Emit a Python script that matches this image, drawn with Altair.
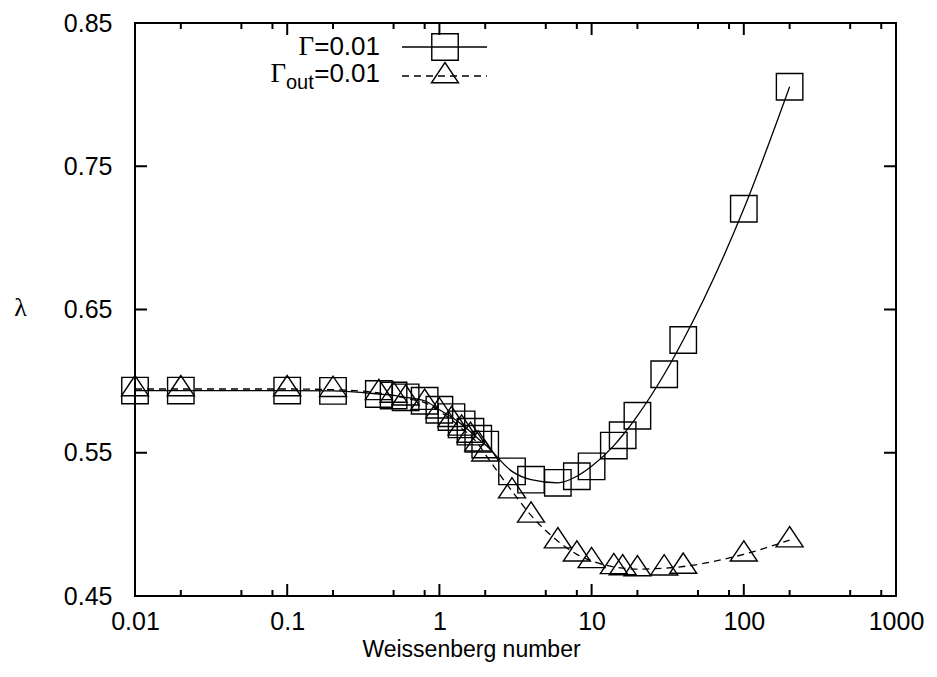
import altair as alt
import pandas as pd

# ---- data ----
W_sq = [0.01, 0.02, 0.1, 0.2, 0.4, 0.5, 0.6, 0.8, 1.0, 1.2, 1.4, 1.6, 1.8, 2.0,
        3, 4, 6, 8, 10, 14, 16, 20, 30, 40, 100, 200]
lam_sq = [0.5934, 0.5934, 0.5934, 0.5932, 0.591, 0.590, 0.5887, 0.5863, 0.580, 0.5749,
          0.5698, 0.5647, 0.5598, 0.5557, 0.537, 0.5312, 0.529, 0.5336, 0.5405, 0.555,
          0.5622, 0.5758, 0.6048, 0.6287, 0.7203, 0.8055]

W_tr = [0.01, 0.02, 0.1, 0.2, 0.4, 0.5, 0.6, 0.8, 1.0, 1.2, 1.4, 1.6, 1.8, 2.0,
        3, 4, 6, 8, 10, 14, 16, 20, 30, 40, 100, 200]
lam_tr = [0.5945, 0.5945, 0.5945, 0.594, 0.5918, 0.590, 0.588, 0.585, 0.579, 0.573,
          0.567, 0.562, 0.556, 0.549, 0.5232, 0.5063, 0.4883, 0.4791, 0.4745, 0.4703,
          0.4695, 0.4688, 0.4694, 0.4706, 0.4791, 0.489]

x_major_ticks = [0.01, 0.1, 1, 10, 100, 1000]
x_minor_ticks = [0.02, 0.05, 0.08, 0.2, 0.5, 0.8, 2, 5, 8, 20, 50, 80, 200, 500, 800]
y_major_ticks = [0.45, 0.55, 0.65, 0.75, 0.85]

legend_labels = ["Γ", "=0.01", "out"]

PW, PH = 761, 573
SANS = "Liberation Sans"
SERIF = "Liberation Serif"
FS = 25
LFS = 26

xscale = alt.Scale(type="log", domain=[0.01, 1000], nice=False)
yscale = alt.Scale(domain=[0.45, 0.85], nice=False, zero=False)

X_ENC = alt.X(
    "W:Q", scale=xscale,
    axis=alt.Axis(values=x_major_ticks, format="~g", ticks=False, tickSize=0,
                  domain=False, grid=False, labelFont=SANS, labelFontSize=FS,
                  labelColor="black", labelPadding=13, labelFlush=False,
                  title="Weissenberg number", titleFont=SANS, titleFontSize=23,
                  titleFontWeight="normal", titleColor="black",
                  titleX=336, titleY=60, titleAlign="center",
                  titleBaseline="alphabetic"),
)
Y_ENC = alt.Y(
    "lam:Q", scale=yscale,
    axis=alt.Axis(values=y_major_ticks, format=".2f", ticks=False, tickSize=0,
                  domain=False, grid=False, labelFont=SANS, labelFontSize=FS,
                  labelColor="black", labelPadding=23, labelFlush=False,
                  title="λ", titleFont=SERIF, titleFontSize=26,
                  titleFontWeight="normal", titleColor="black", titleAngle=0,
                  titleX=-115, titleY=284, titleAlign="center",
                  titleBaseline="middle"),
)

sq = pd.DataFrame({"W": W_sq, "lam": lam_sq})
tr = pd.DataFrame({"W": W_tr, "lam": lam_tr})
xmaj = pd.DataFrame({"W": x_major_ticks})
xmin = pd.DataFrame({"W": x_minor_ticks})
ymaj = pd.DataFrame({"lam": y_major_ticks})
one = pd.DataFrame({"k": [0]})

TRI = "M0,-1L-1,0.5L1,0.5Z"

line_sq = alt.Chart(sq).mark_line(color="black", strokeWidth=1.3,
                                  interpolate="monotone").encode(x=X_ENC, y=Y_ENC)
pts_sq = alt.Chart(sq).mark_point(shape="square", size=700, filled=False,
                                  color="black", strokeWidth=1.4, opacity=1).encode(x=X_ENC, y=Y_ENC)
line_tr = alt.Chart(tr).mark_line(color="black", strokeWidth=1.3, strokeDash=[7, 5],
                                  interpolate="monotone").encode(x=X_ENC, y=Y_ENC)
pts_tr = alt.Chart(tr).mark_point(shape=TRI, size=729, filled=False,
                                  color="black", strokeWidth=1.4, opacity=1).encode(x=X_ENC, y=Y_ENC)

tick_style = dict(color="black", strokeWidth=2)
bx_maj = alt.Chart(xmaj).mark_rule(**tick_style).encode(x=X_ENC, y=alt.value(PH), y2=alt.value(PH - 12))
tx_maj = alt.Chart(xmaj).mark_rule(**tick_style).encode(x=X_ENC, y=alt.value(0), y2=alt.value(12))
bx_min = alt.Chart(xmin).mark_rule(**tick_style).encode(x=X_ENC, y=alt.value(PH), y2=alt.value(PH - 6))
tx_min = alt.Chart(xmin).mark_rule(**tick_style).encode(x=X_ENC, y=alt.value(0), y2=alt.value(6))
ly_maj = alt.Chart(ymaj).mark_rule(**tick_style).encode(y=Y_ENC, x=alt.value(0), x2=alt.value(12))
ry_maj = alt.Chart(ymaj).mark_rule(**tick_style).encode(y=Y_ENC, x=alt.value(PW), x2=alt.value(PW - 12))

# ---- legend (gnuplot style: text, then sample) ----
r1y, r2y = 24, 53
eq_right = 245
g1_right = 179
out_left = 151
leg_g1 = alt.Chart(one).mark_text(text=legend_labels[0], font=SERIF, fontSize=27, align="right",
                                  baseline="alphabetic", color="black").encode(x=alt.value(g1_right), y=alt.value(32))
leg_t1 = alt.Chart(one).mark_text(text=legend_labels[1], font=SANS, fontSize=LFS, align="right",
                                  baseline="alphabetic", color="black").encode(x=alt.value(eq_right), y=alt.value(32))
leg_g2 = alt.Chart(one).mark_text(text=legend_labels[0], font=SERIF, fontSize=27, align="right",
                                  baseline="alphabetic", color="black").encode(x=alt.value(out_left), y=alt.value(59))
leg_s2 = alt.Chart(one).mark_text(text=legend_labels[2], font=SANS, fontSize=20, align="left",
                                  baseline="alphabetic", color="black").encode(x=alt.value(out_left), y=alt.value(66))
leg_t2 = alt.Chart(one).mark_text(text=legend_labels[1], font=SANS, fontSize=LFS, align="right",
                                  baseline="alphabetic", color="black").encode(x=alt.value(eq_right), y=alt.value(59))
leg_l1 = alt.Chart(one).mark_rule(color="black", strokeWidth=1.3).encode(
    x=alt.value(267), x2=alt.value(352), y=alt.value(r1y))
leg_l2 = alt.Chart(one).mark_rule(color="black", strokeWidth=1.3, strokeDash=[7, 5]).encode(
    x=alt.value(267), x2=alt.value(352), y=alt.value(r2y))
leg_p1 = alt.Chart(one).mark_point(shape="square", size=700, filled=False, color="black",
                                   strokeWidth=1.4, opacity=1).encode(x=alt.value(310), y=alt.value(r1y))
leg_p2 = alt.Chart(one).mark_point(shape=TRI, size=729, filled=False, color="black",
                                   strokeWidth=1.4, opacity=1).encode(x=alt.value(310), y=alt.value(r2y))

chart = alt.layer(
    line_sq, line_tr, pts_sq, pts_tr,
    bx_maj, tx_maj, bx_min, tx_min, ly_maj, ry_maj,
    leg_l1, leg_l2, leg_p1, leg_p2, leg_g1, leg_t1, leg_g2, leg_s2, leg_t2,
).properties(
    width=PW, height=PH,
    autosize=alt.AutoSizeParams(type="none"),
    padding={"left": 127, "top": 15, "right": 30, "bottom": 70},
    background="white",
).configure_view(stroke="black", strokeWidth=2)

chart.save("out.html", embed_options={"renderer": "svg", "actions": False})
